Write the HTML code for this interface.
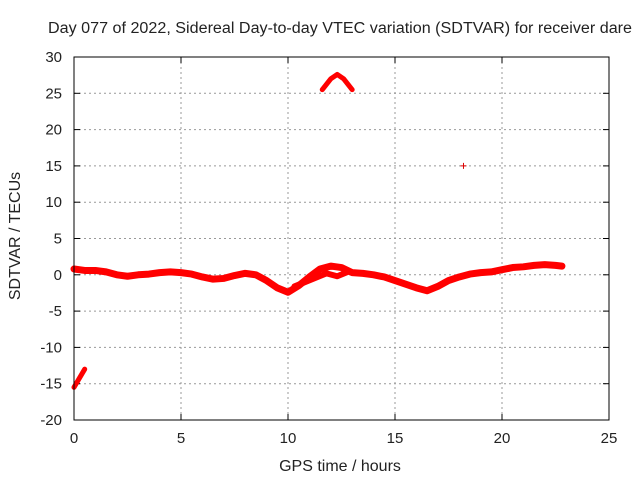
<!DOCTYPE html>
<html><head><meta charset="utf-8"><style>
body{margin:0;background:#fff}
svg{display:block;font-family:"Liberation Sans",sans-serif;font-size:15px;fill:#222}
</style></head><body>
<svg id="chart" width="640" height="480">
<text x="340" y="33" text-anchor="middle" textLength="584" lengthAdjust="spacingAndGlyphs" style="font-size:15.5px">Day 077 of 2022, Sidereal Day-to-day VTEC variation (SDTVAR) for receiver dare</text>
<text x="340" y="471" text-anchor="middle" style="font-size:16px">GPS time / hours</text>
<text transform="translate(20,236) rotate(-90)" text-anchor="middle" style="font-size:16px">SDTVAR / TECUs</text>
<g id="grid"></g><g id="ticks"></g><g id="marks"></g>
<rect x="74" y="57" width="535" height="363" fill="none" stroke="#000" stroke-width="1"/>
</svg>
<script>
const xTicks=[0,5,10,15,20,25];
const yTicks=[30,25,20,15,10,5,0,-5,-10,-15,-20];
const mainHours=[0,0.5,1,1.5,2,2.5,3,3.5,4,4.5,5,5.5,6,6.5,7,7.5,8,8.5,9,9.5,10,10.5,11,11.5,12,12.5,13,13.5,14,14.5,15,15.5,16,16.5,17,17.5,18,18.5,19,19.5,20,20.5,21,21.5,22,22.5,22.8];
const mainValues=[0.8,0.6,0.6,0.4,0.0,-0.2,0.0,0.1,0.3,0.4,0.3,0.1,-0.3,-0.6,-0.5,-0.1,0.2,0,-0.8,-1.8,-2.4,-1.5,-0.3,0.8,1.2,1.0,0.3,0.2,0.0,-0.3,-0.8,-1.3,-1.8,-2.2,-1.6,-0.8,-0.3,0.1,0.3,0.4,0.7,1.0,1.1,1.3,1.4,1.3,1.2];
const branchHours=[10.3,10.8,11.3,11.8,12.3,12.8];
const branchValues=[-1.6,-1.0,-0.4,0.2,-0.2,0.4];
const arcHours=[11.6,12.0,12.3,12.6,13.0];
const arcValues=[25.5,27.0,27.6,27.0,25.5];
const lowHours=[0,0.5];
const lowValues=[-15.5,-13.0];
const outlierHours=[18.2];
const outlierValues=[15];
const NS='http://www.w3.org/2000/svg';
const X=h=>74+h*(535/25), Y=v=>57+(30-v)*(363/50);
const grid=document.getElementById('grid'),ticks=document.getElementById('ticks'),marks=document.getElementById('marks');
function mk(t,a,p){const e=document.createElementNS(NS,t);for(const k in a)e.setAttribute(k,a[k]);p.appendChild(e);return e;}
xTicks.forEach(t=>{
 const x=X(t);
 if(t>0&&t<25){const g=mk('line',{x1:x,x2:x,y1:57,y2:420,stroke:'#999','stroke-dasharray':'2,3'},grid);
 
 }
 mk('line',{x1:x,x2:x,y1:420,y2:414,stroke:'#000'},ticks);mk('line',{x1:x,x2:x,y1:57,y2:63,stroke:'#000'},ticks);
 const l=mk('text',{x:x,y:443,'text-anchor':'middle'},ticks);l.textContent=t;
 
 
});
yTicks.forEach(t=>{
 const y=Y(t);
 if(t<30&&t>-20){const g=mk('line',{x1:74,x2:609,y1:y,y2:y,stroke:'#999','stroke-dasharray':'2,3'},grid);
 
 }
 mk('line',{x1:74,x2:80,y1:y,y2:y,stroke:'#000'},ticks);mk('line',{x1:603,x2:609,y1:y,y2:y,stroke:'#000'},ticks);
 const l=mk('text',{x:62,y:y+5,'text-anchor':'end'},ticks);l.textContent=t;
 
 
});
function series(hs,vs,w,name){
 const pts=hs.map((h,i)=>X(h)+','+Y(vs[i])).join(' ');
 const p=mk('polyline',{points:pts,fill:'none',stroke:'#f00','stroke-width':w,'stroke-linejoin':'round','stroke-linecap':'round'},marks);
 
 
}
series(mainHours,mainValues,7,'main-series');
series(branchHours,branchValues,6,'branch-series');
series(arcHours,arcValues,5,'arc-series');
series(lowHours,lowValues,5,'low-series');
outlierHours.forEach((h,i)=>{
 const x=X(h),y=Y(outlierValues[i]);
 const p=mk('path',{d:`M${x-3},${y}H${x+3}M${x},${y-3}V${y+3}`,stroke:'#d00','stroke-width':1},marks);
 
 
});
</script>
</body></html>
